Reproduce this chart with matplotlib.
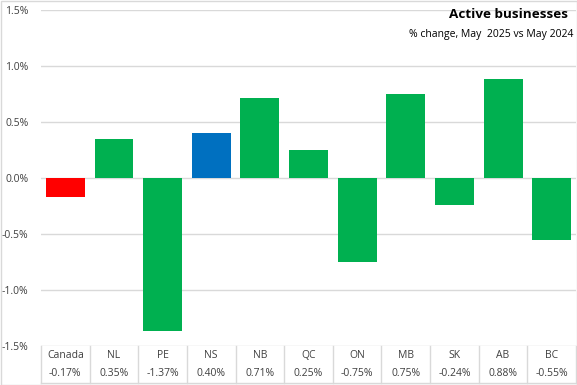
import matplotlib
matplotlib.use("Agg")
import matplotlib.pyplot as plt
from matplotlib.patches import Rectangle
from matplotlib.lines import Line2D

categories = ["Canada", "NL", "PE", "NS", "NB", "QC", "ON", "MB", "SK", "AB", "BC"]
values = [-0.17, 0.35, -1.37, 0.40, 0.71, 0.25, -0.75, 0.75, -0.24, 0.88, -0.55]
table_labels = ["-0.17%", "0.35%", "-1.37%", "0.40%", "0.71%", "0.25%", "-0.75%", "0.75%", "-0.24%", "0.88%", "-0.55%"]
yticks = [-1.5, -1.0, -0.5, 0.0, 0.5, 1.0, 1.5]
ytick_labels = ["-1.5%", "-1.0%", "-0.5%", "0.0%", "0.5%", "1.0%", "1.5%"]

GREEN = "#00B050"
RED = "#FF0000"
BLUE = "#0070C0"
colors = [RED if c == "Canada" else BLUE if c == "NS" else GREEN for c in categories]

plt.rcParams['font.family'] = ['Open Sans', 'DejaVu Sans']

W, H = 577, 385
fig = plt.figure(figsize=(W / 100, H / 100), dpi=100)
left, right, top, bottom = 41, 576, 10, 346
ax = fig.add_axes([left / W, 1 - bottom / H, (right - left) / W, (bottom - top) / H])

x = list(range(len(categories)))
ax.bar(x, values, width=0.8, color=colors, zorder=3)
ax.set_xlim(-0.5, len(categories) - 0.5)
ax.set_ylim(-1.5, 1.5)
ax.set_yticks(yticks)
ax.set_yticklabels(ytick_labels, fontsize=7.5, color="#404040")
ax.tick_params(axis="y", length=0, pad=9)
ax.set_xticks([])
for s in ax.spines.values():
    s.set_visible(False)
ax.grid(axis="y", color="#D9D9D9", linewidth=1, zorder=0)

# data table below
gc = "#D9D9D9"
tbl_top = 1 - 346 / H
tbl_bot = 1 - 383 / H
fig.add_artist(Line2D([left / W, right / W], [tbl_bot, tbl_bot], color=gc, lw=1))
for i in range(len(categories) + 1):
    xf = (left + i * (right - left) / len(categories)) / W
    fig.add_artist(Line2D([xf, xf], [tbl_bot, tbl_top], color=gc, lw=1))
for i, (c, lab) in enumerate(zip(categories, table_labels)):
    ax.text(i, -9 / 336, c, transform=ax.get_xaxis_transform(), ha="center", va="center",
            fontsize=7.5, color="#404040", clip_on=False)
    ax.text(i, -27.5 / 336, lab, transform=ax.get_xaxis_transform(), ha="center", va="center",
            fontsize=7.5, color="#404040", clip_on=False)

fig.text(568 / W, 1 - 15 / H, "Active businesses", ha="right", va="center",
         fontsize=9.7, fontweight="bold", color="#000000")
fig.text(573 / W, 1 - 34 / H, "% change, May  2025 vs May 2024", ha="right", va="center",
         fontsize=7.5, color="#000000")

fig.add_artist(Rectangle((0.5 / W, 0.5 / H), (W - 1) / W, (H - 1) / H, transform=fig.transFigure,
                         fill=False, edgecolor="#D9D9D9", lw=1))

fig.savefig("out.png", dpi=100)
